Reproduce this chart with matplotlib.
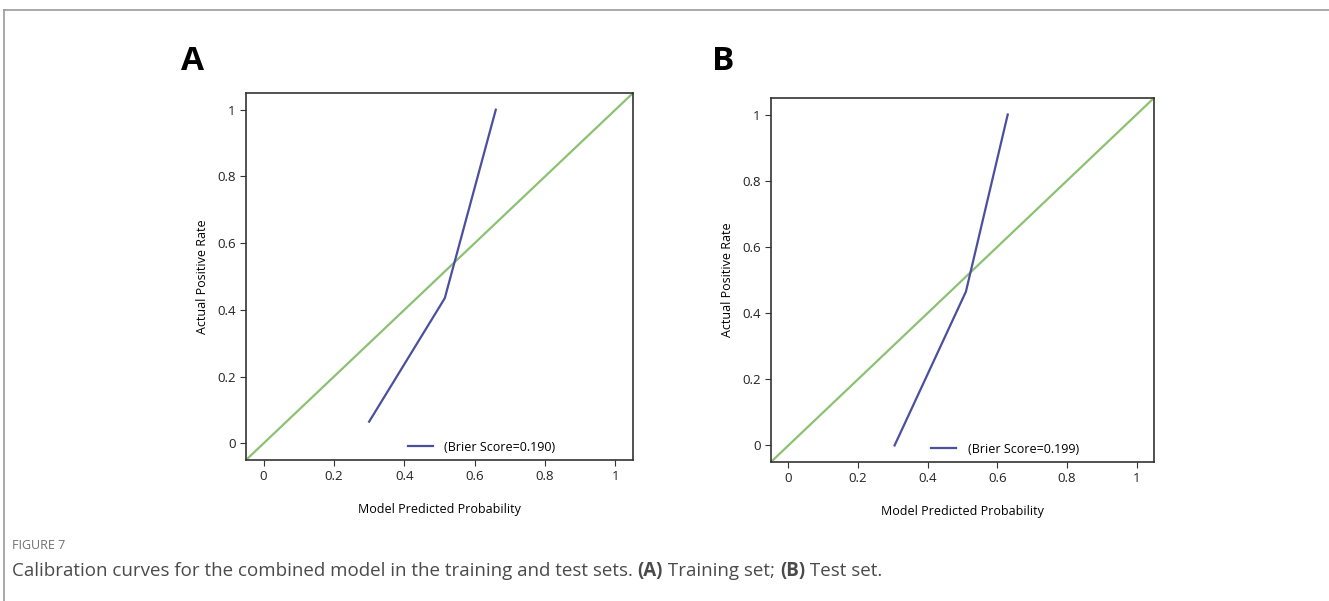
import matplotlib
matplotlib.use("Agg")
import matplotlib.pyplot as plt
from matplotlib.lines import Line2D

plt.rcParams['font.family'] = ['Open Sans', 'DejaVu Sans']

# calibration points
train_pred = [0.30, 0.515, 0.66]
train_actual = [0.065, 0.435, 1.0]
test_pred = [0.305, 0.51, 0.63]
test_actual = [0.0, 0.465, 1.0]
brier = [0.190, 0.199]
panel_labels = ["A", "B"]
ticks = [0, 0.2, 0.4, 0.6, 0.8, 1]
tick_labels = ["0", "0.2", "0.4", "0.6", "0.8", "1"]

blue = "#4b4f9e"
green = "#8cc174"

fig = plt.figure(figsize=(13.29, 6.01), dpi=100)

# outer frame like the journal page
fig.add_artist(Line2D([0.003, 1.0], [0.983, 0.983], color="#9a9a9a", lw=1.2))
fig.add_artist(Line2D([0.003, 0.003], [0.0, 0.983], color="#9a9a9a", lw=1.2))

positions = [[0.1851, 0.2346, 0.2912, 0.6106], [0.5801, 0.2313, 0.2882, 0.6057]]
label_x = [0.1365, 0.5355]
curves = [(train_pred, train_actual), (test_pred, test_actual)]

for i in range(2):
    ax = fig.add_axes(positions[i])
    ax.plot([-0.05, 1.05], [-0.05, 1.05], color=green, lw=1.6)
    ax.plot(curves[i][0], curves[i][1], color=blue, lw=1.6,
            label="(Brier Score=%.3f)" % brier[i])
    ax.set_xlim(-0.05, 1.05)
    ax.set_ylim(-0.05, 1.05)
    ax.set_xticks(ticks)
    ax.set_xticklabels(tick_labels)
    ax.set_yticks(ticks)
    ax.set_yticklabels(tick_labels)
    ax.tick_params(labelsize=9.5, length=4, color="#333333", labelcolor="#222222")
    for s in ax.spines.values():
        s.set_linewidth(1.2)
        s.set_color("#333333")
    ax.set_xlabel("Model Predicted Probability", fontsize=9, labelpad=14)
    ax.set_ylabel("Actual Positive Rate", fontsize=9, labelpad=6)
    ax.legend(loc="center left", bbox_to_anchor=(0.419, 0.035), frameon=False,
              fontsize=9, handlelength=2.0, handletextpad=0.9,
              borderpad=0, borderaxespad=0)
    fig.text(label_x[i], 0.897, panel_labels[i], fontsize=24,
             fontweight="bold", va="center", ha="left")

fig.text(0.009, 0.093, "FIGURE 7", fontsize=9, color="#707070", va="center")

# caption with bold panel refs
fig.canvas.draw()
r = fig.canvas.get_renderer()
x = 0.009
parts = [("Calibration curves for the combined model in the training and test sets. ", "normal"),
         ("(A)", "bold"), (" Training set; ", "normal"),
         ("(B)", "bold"), (" Test set.", "normal")]
for txt, w in parts:
    tt = fig.text(x, 0.05, txt, fontsize=13.5, color="#4a4a4a", va="center",
                  fontweight=w)
    bb = tt.get_window_extent(renderer=r)
    x += bb.width / fig.bbox.width

fig.savefig("out.png", dpi=100)
